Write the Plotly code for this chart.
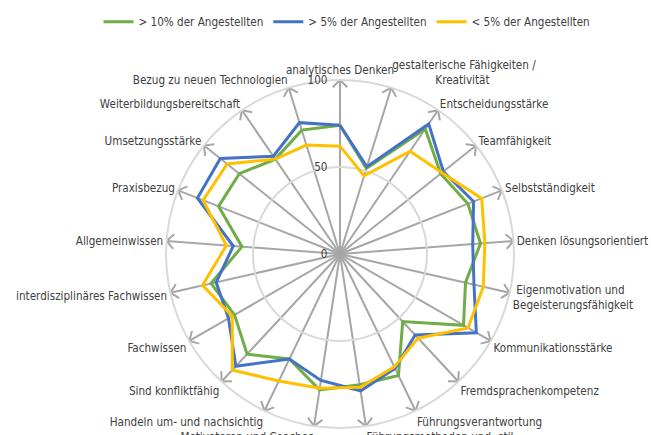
import plotly.graph_objects as go
import math

categories = [
    "analytisches Denken",
    "gestalterische Fähigkeiten /<br>" + "\u00a0" * 13 + "Kreativität",
    "Entscheidungsstärke",
    "Teamfähigkeit",
    "Selbstständigkeit",
    "Denken lösungsorientiert",
    "\u00a0Eigenmotivation und<br>Begeisterungsfähigkeit",
    "Kommunikationsstärke",
    "Fremdsprachenkompetenz",
    "Führungsverantwortung",
    "Führungsmethoden und -stil",
    "Motivatoren und Coaches",
    "Handeln um- und nachsichtig",
    "Sind konfliktfähig",
    "Fachwissen",
    "interdisziplinäres Fachwissen",
    "Allgemeinwissen",
    "Praxisbezug",
    "Umsetzungsstärke",
    "Weiterbildungsbereitschaft",
    "Bezug zu neuen Technologien",
]

series_names = ["> 10% der Angestellten", "> 5% der Angestellten", "< 5% der Angestellten"]

values_gt10 = [74, 51.5, 87, 74, 79, 81, 74, 82, 53, 77.5, 76, 79, 67, 78.5, 70, 76, 56.5, 75, 74, 66, 74.5]
values_gt5 = [74, 52.5, 90.5, 76, 82.5, 76.5, 79, 90.5, 63.5, 73, 79.5, 73.5, 67, 88, 74, 73, 61.5, 88, 88, 68, 79]
values_lt5 = [62, 47, 71.5, 75, 87.5, 83.5, 84.5, 85, 66, 72, 77.5, 78, 81, 91, 71.5, 81, 65.5, 84.5, 83, 66, 65.5]

radial_ticks = [0, 50, 100]

colors = ["#70AD47", "#4472C4", "#FFC000"]
FONT = "DejaVu Sans Condensed, Liberation Sans Narrow, Roboto Condensed, DejaVu Sans, sans-serif"
FS = 11.6

n = len(categories)
angles = [i * 360.0 / n for i in range(n)]

fig = go.Figure()

# arrowheads at the end of every spoke (decorative, derived from the category angles)
rmax = radial_ticks[-1]
a = 4.2
ar = math.sqrt((rmax - a) ** 2 + a ** 2)
da = math.degrees(math.atan(a / (rmax - a)))
arr_r, arr_t = [], []
for ang in angles:
    arr_r += [ar, rmax, ar, None]
    arr_t += [ang - da, ang, ang + da, None]
fig.add_trace(go.Scatterpolar(
    r=arr_r, theta=arr_t, mode="lines",
    line=dict(color="#A6A6A6", width=2),
    showlegend=False, hoverinfo="skip", connectgaps=False,
))

for name, vals, col in zip(series_names, [values_gt10, values_gt5, values_lt5], colors):
    fig.add_trace(go.Scatterpolar(
        r=vals + [vals[0]],
        theta=angles + [angles[0]],
        mode="lines",
        name=name,
        line=dict(color=col, width=3),
    ))

fig.update_layout(
    width=651, height=435,
    margin=dict(l=0, r=0, t=0, b=0),
    paper_bgcolor="white",
    font=dict(family=FONT, size=FS, color="#404040"),
    showlegend=True,
    legend=dict(
        orientation="h", x=0.533, xanchor="center", y=0.95, yanchor="middle",
        font=dict(family=FONT, size=FS, color="#404040"),
        itemwidth=30, tracegroupgap=0,
    ),
    polar=dict(
        domain=dict(x=[0.2550, 0.7895], y=[0.0161, 0.8161]),
        bgcolor="white",
        gridshape="linear",
        angularaxis=dict(
            rotation=90, direction="clockwise",
            tickmode="array", tickvals=angles, ticktext=categories,
            showgrid=True, gridcolor="#A6A6A6", gridwidth=2,
            showline=True, linecolor="#D9D9D9", linewidth=2,
            ticks="",
            tickfont=dict(family=FONT, size=FS, color="#404040"),
        ),
        radialaxis=dict(
            range=[0, 100], tickmode="array", tickvals=radial_ticks,
            angle=90, tickangle=90, side="counterclockwise",
            showline=False, ticks="outside", ticklen=8,
            tickcolor="rgba(0,0,0,0)",
            gridcolor="#D9D9D9", gridwidth=2,
            tickfont=dict(family=FONT, size=FS, color="#404040"),
        ),
    ),
)

fig.write_html(
    "out.html",
    config={"displayModeBar": False},
    post_script="document.body.style.margin='0px';",
)
